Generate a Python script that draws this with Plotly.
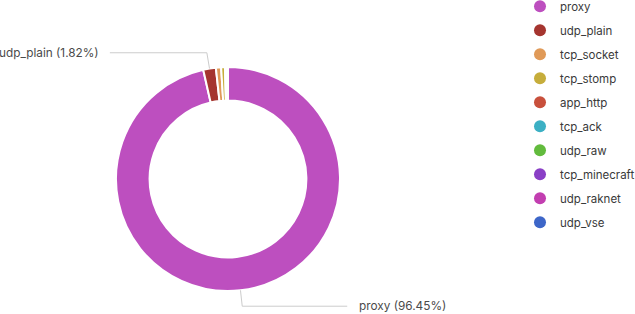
import plotly.graph_objects as go
import numpy as np

labels = ["proxy", "udp_plain", "tcp_socket", "tcp_stomp", "app_http",
          "tcp_ack", "udp_raw", "tcp_minecraft", "udp_raknet", "udp_vse"]
values = [96.45, 1.82, 0.75, 0.55, 0.20, 0.10, 0.06, 0.04, 0.02, 0.01]
colors = ["#bd4fbf", "#a5352f", "#e09a58", "#c6ad3b", "#c8503c",
          "#3cb0c4", "#62bb3d", "#8a3fc6", "#c23eb0", "#3d66c8"]
labeled = ["proxy", "udp_plain"]

W, H = 635, 314
cx, cy, R = 228, 179, 112
L1 = 16
L2 = {1: 105, -1: 97}
GAP = {1: 10, -1: 9}
FONT = "Inter, Noto Sans, sans-serif"

fig = go.Figure()
fig.add_trace(go.Pie(
    labels=labels, values=values, hole=0.7, sort=False,
    direction="clockwise", rotation=0,
    marker=dict(colors=colors, line=dict(color="white", width=2)),
    textinfo="none", showlegend=False,
    domain=dict(x=[(cx - R) / W, (cx + R) / W],
                y=[(H - cy - R) / H, (H - cy + R) / H]),
))

for i, (lab, col) in enumerate(zip(labels, colors)):
    fig.add_trace(go.Scatter(
        x=[None], y=[None], mode="markers", name=lab, legendgroup=lab,
        marker=dict(color=col, size=12, symbol="circle"), showlegend=True,
    ))


def px2paper(x, y):
    return x / W, 1 - y / H


total = sum(values)
cum = 0.0
shapes, annotations = [], []
for lab, v in zip(labels, values):
    if lab in labeled:
        th = 2 * np.pi * (cum + v / 2) / total
        s, c = np.sin(th), np.cos(th)
        x0, y0 = cx + R * s, cy - R * c
        x1, y1 = cx + (R + L1) * s, cy - (R + L1) * c
        sign = 1 if s > 0 else -1
        x2, y2 = x1 + sign * L2[sign], y1
        p0, p1, p2 = px2paper(x0, y0), px2paper(x1, y1), px2paper(x2, y2)
        shapes.append(dict(
            type="path", xref="paper", yref="paper",
            path=f"M {p0[0]} {p0[1]} L {p1[0]} {p1[1]} L {p2[0]} {p2[1]}",
            line=dict(color="#cccccc", width=1)))
        tx, ty = px2paper(x2 + sign * GAP[sign], y2)
        annotations.append(dict(
            x=tx, y=ty, xref="paper", yref="paper", showarrow=False,
            text=f"{lab} ({100 * v / total:.2f}%)",
            xanchor="left" if sign > 0 else "right", yanchor="middle",
            font=dict(family=FONT, size=11.8, color="#4a4a4a")))
    cum += v

fig.update_layout(
    width=W, height=H,
    margin=dict(l=0, r=0, t=0, b=0, autoexpand=False),
    paper_bgcolor="white", plot_bgcolor="white",
    xaxis=dict(visible=False), yaxis=dict(visible=False),
    shapes=shapes, annotations=annotations,
    legend=dict(x=520 / W, xanchor="left", y=1.026, yanchor="top",
                font=dict(family=FONT, size=11.5, color="#3a3a3a"),
                tracegroupgap=5, traceorder="grouped", maxheight=1,
                bgcolor="rgba(0,0,0,0)"),
)

fig.write_html("out.html")
